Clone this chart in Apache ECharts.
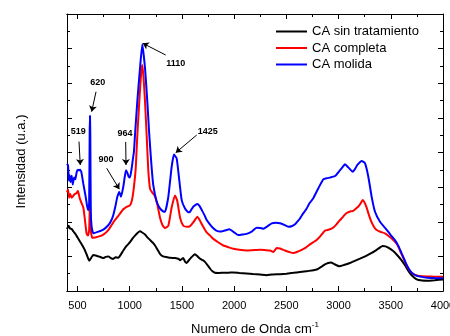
<!DOCTYPE html>
<html>
<head>
<meta charset="utf-8">
<script src="https://cdn.jsdelivr.net/npm/echarts@6/dist/echarts.min.js"></script>
<style>
  html, body { margin: 0; padding: 0; background: #fff; }
  #chart { width: 450px; height: 336px; }
</style>
</head>
<body>
<div id="chart"></div>
<script>
// wavenumber (cm-1) and intensity (a.u.)
const sinX = [400, 415, 430, 445, 460, 480, 500, 525, 550, 572, 595, 614, 635, 652, 675, 700, 725, 748, 770, 795, 820, 843, 865, 891, 915, 939, 970, 1003, 1030, 1051, 1075, 1099, 1120, 1147, 1170, 1195, 1220, 1243, 1265, 1290, 1320, 1354, 1390, 1434, 1470, 1482, 1500, 1513, 1530, 1546, 1570, 1600, 1625, 1650, 1673, 1700, 1721, 1745, 1769, 1790, 1817, 1850, 1897, 1950, 1992, 2050, 2120, 2180, 2248, 2312, 2360, 2439, 2500, 2567, 2631, 2710, 2760, 2791, 2830, 2870, 2900, 2927, 2960, 3007, 3050, 3109, 3150, 3205, 3260, 3317, 3370, 3422, 3450, 3476, 3520, 3556, 3600, 3636, 3670, 3700, 3748, 3800, 3844, 3920, 4000];
const sinY = [3.58, 3.77, 3.6, 3.58, 3.45, 3.3, 3.1, 2.85, 2.6, 2.35, 2.0, 1.75, 1.95, 2.08, 2.05, 2.0, 1.95, 1.9, 1.97, 2.0, 1.9, 1.85, 1.95, 1.92, 2.1, 2.34, 2.6, 2.82, 3.05, 3.2, 3.35, 3.45, 3.38, 3.26, 3.1, 2.95, 2.8, 2.63, 2.4, 2.15, 2.0, 1.96, 1.92, 1.9, 1.85, 1.77, 1.85, 1.9, 1.7, 1.62, 1.8, 2.0, 2.12, 2.0, 1.87, 1.78, 1.68, 1.5, 1.3, 1.15, 1.05, 1.04, 1.05, 1.06, 1.07, 1.04, 1.01, 0.98, 0.95, 0.91, 0.95, 0.97, 1.0, 1.05, 1.1, 1.16, 1.2, 1.24, 1.38, 1.54, 1.62, 1.65, 1.55, 1.43, 1.5, 1.62, 1.73, 1.87, 2.02, 2.2, 2.4, 2.6, 2.58, 2.5, 2.32, 2.11, 1.8, 1.49, 1.15, 0.91, 0.67, 0.6, 0.59, 0.62, 0.67];

const compX = [400, 410, 420, 430, 445, 460, 475, 490, 505, 520, 531, 556, 569, 588, 601, 612, 617, 620, 623, 628, 640, 652, 700, 748, 795, 843, 891, 939, 971, 1003, 1020, 1035, 1057, 1073, 1092, 1110, 1121, 1132, 1147, 1163, 1178, 1195, 1215, 1240, 1265, 1290, 1315, 1338, 1370, 1402, 1434, 1456, 1482, 1514, 1546, 1578, 1609, 1630, 1648, 1670, 1690, 1715, 1737, 1770, 1801, 1850, 1897, 1950, 1992, 2050, 2120, 2180, 2248, 2300, 2344, 2375, 2408, 2440, 2487, 2530, 2567, 2600, 2647, 2690, 2726, 2758, 2790, 2822, 2850, 2870, 2910, 2950, 2980, 3014, 3045, 3071, 3105, 3141, 3165, 3189, 3210, 3231, 3250, 3269, 3290, 3317, 3340, 3365, 3400, 3445, 3485, 3524, 3560, 3588, 3620, 3652, 3685, 3716, 3750, 3780, 3850, 3920, 4000];
const compY = [5.7, 5.87, 5.39, 5.6, 5.39, 5.5, 5.6, 5.65, 5.77, 5.4, 5.2, 4.82, 4.25, 3.3, 3.2, 3.5, 4.6, 5.0, 4.6, 3.5, 3.1, 3.07, 3.14, 3.26, 3.52, 3.96, 4.34, 4.72, 4.86, 4.95, 5.2, 5.72, 7.01, 8.95, 10.94, 12.6, 13.05, 12.4, 10.94, 8.95, 7.01, 5.9, 5.7, 5.5, 5.0, 4.25, 3.8, 3.64, 3.77, 4.82, 5.52, 5.2, 4.25, 3.77, 3.71, 3.75, 3.96, 4.15, 4.29, 4.1, 3.87, 3.6, 3.39, 3.2, 3.01, 2.8, 2.63, 2.52, 2.44, 2.38, 2.34, 2.36, 2.38, 2.36, 2.34, 2.25, 2.48, 2.45, 2.34, 2.25, 2.19, 2.25, 2.38, 2.52, 2.69, 2.82, 2.95, 3.14, 3.35, 3.49, 3.55, 3.67, 3.85, 4.1, 4.3, 4.48, 4.58, 4.63, 4.75, 4.88, 5.05, 5.26, 5.1, 4.82, 4.4, 3.96, 3.7, 3.52, 3.42, 3.33, 3.15, 2.95, 2.7, 2.34, 1.9, 1.49, 1.15, 0.97, 0.9, 0.86, 0.84, 0.83, 0.82];

const molX = [400, 410, 418, 425, 433, 445, 455, 468, 480, 493, 505, 515, 525, 537, 556, 579, 594, 604, 612, 617, 620, 623, 628, 636, 652, 700, 748, 795, 820, 843, 865, 882, 901, 917, 939, 952, 965, 978, 990, 1003, 1019, 1030, 1041, 1051, 1073, 1099, 1121, 1147, 1169, 1188, 1211, 1226, 1259, 1290, 1320, 1338, 1370, 1402, 1424, 1450, 1475, 1498, 1530, 1561, 1578, 1609, 1648, 1670, 1690, 1715, 1737, 1770, 1801, 1830, 1865, 1910, 1954, 2000, 2040, 2080, 2120, 2168, 2216, 2250, 2280, 2320, 2360, 2400, 2439, 2480, 2519, 2550, 2583, 2610, 2631, 2647, 2695, 2720, 2758, 2806, 2854, 2890, 2918, 2966, 3014, 3040, 3062, 3093, 3135, 3160, 3180, 3222, 3253, 3285, 3317, 3349, 3397, 3461, 3500, 3540, 3575, 3604, 3630, 3652, 3685, 3716, 3750, 3780, 3850, 3920, 4000];
const molY = [7.35, 7.25, 6.38, 6.68, 6.3, 6.65, 6.15, 6.55, 6.45, 6.88, 7.0, 6.98, 7.0, 6.88, 6.2, 5.44, 4.86, 4.67, 5.05, 9.1, 10.12, 9.1, 4.55, 3.7, 3.33, 3.43, 3.55, 3.8, 4.03, 4.38, 4.94, 5.44, 5.72, 5.44, 6.02, 6.56, 6.98, 6.82, 6.62, 6.56, 7.08, 7.58, 8.05, 9.0, 10.94, 12.87, 14.25, 12.87, 10.94, 9.0, 7.08, 6.12, 5.15, 4.77, 4.6, 4.58, 5.44, 7.17, 7.88, 7.66, 6.4, 5.25, 4.77, 4.55, 4.58, 4.87, 5.02, 4.9, 4.68, 4.4, 4.1, 3.84, 3.62, 3.49, 3.43, 3.49, 3.56, 3.39, 3.23, 3.26, 3.3, 3.43, 3.66, 3.64, 3.59, 3.74, 3.91, 3.94, 3.91, 3.82, 3.71, 3.74, 3.85, 4.04, 4.19, 4.35, 4.77, 5.05, 5.36, 5.93, 6.45, 6.52, 6.55, 6.64, 6.98, 7.17, 7.32, 7.14, 6.89, 7.07, 7.28, 7.51, 7.38, 6.6, 5.44, 4.58, 4.0, 3.53, 3.23, 2.94, 2.58, 2.17, 1.82, 1.51, 1.16, 0.98, 0.87, 0.83, 0.77, 0.75, 0.73];

const seriesNames = ['CA sin tratamiento', 'CA completa', 'CA molida'];
const xTicks = [500, 1000, 1500, 2000, 2500, 3000, 3500, 4000];
const xMinorTicks = [750, 1250, 1750, 2250, 2750, 3250, 3750];

// peak labels: text position and arrow (from -> to), in data units
const notes = [
  { text: '1110', at: [1441, 13.15], from: [1345, 13.63], to: [1125, 14.31] },
  { text: '620', at: [694, 12.06], from: [678, 11.51], to: [636, 10.36] },
  { text: '519', at: [508, 9.2], from: [515, 8.63], to: [527, 7.28] },
  { text: '964', at: [955, 9.07], from: [962, 8.61], to: [965, 7.28] },
  { text: '900', at: [773, 7.61], from: [780, 7.09], to: [901, 5.88] },
  { text: '1425', at: [1747, 9.2], from: [1642, 9.01], to: [1441, 7.99] }
];

const zip = (xs, ys) => xs.map((x, i) => [x, ys[i]]);

const font = 'Arial, "Liberation Sans", sans-serif';
const chart = echarts.init(document.getElementById('chart'), null, { renderer: 'canvas' });

const xBase = {
  type: 'value', min: 400, max: 4000,
  axisLine: { show: true, onZero: false, lineStyle: { color: '#000', width: 1 } },
  splitLine: { show: false }
};
const yBase = {
  type: 'value', min: 0, max: 16, interval: 2,
  axisLine: { show: true, onZero: false, lineStyle: { color: '#000', width: 1 } },
  axisTick: { show: true, inside: true, length: 5, lineStyle: { color: '#000' } },
  minorTick: { show: true, splitNumber: 2, length: 3, lineStyle: { color: '#000' } },
  axisLabel: { show: false },
  splitLine: { show: false },
  minorSplitLine: { show: false }
};

const option = {
  animation: false,
  backgroundColor: '#fff',
  textStyle: { fontFamily: font },
  grid: { left: 67, right: 7, top: 14, bottom: 45, containLabel: false, outerBoundsMode: 'none' },
  legend: {
    data: seriesNames,
    orient: 'vertical',
    left: 276,
    top: 25,
    padding: 0,
    icon: 'rect',
    itemWidth: 31,
    itemHeight: 2,
    itemGap: 3.5,
    textStyle: { fontSize: 13, color: '#000', fontFamily: font, lineHeight: 13 }
  },
  xAxis: [
    Object.assign({}, xBase, {
      position: 'bottom',
      name: 'Numero de Onda cm{sup|-1}',
      nameLocation: 'middle',
      nameGap: 30,
      nameTextStyle: {
        fontSize: 13, color: '#000', fontFamily: font,
        rich: { sup: { fontSize: 8, verticalAlign: 'top', padding: [0, 0, 8, 0], color: '#000' } }
      },
      axisTick: { show: true, inside: true, length: 5, customValues: xTicks, lineStyle: { color: '#000' } },
      axisLabel: {
        show: true, customValues: xTicks, margin: 9, fontSize: 11, color: '#000', fontFamily: font,
        formatter: v => String(v)
      }
    }),
    Object.assign({}, xBase, {
      position: 'bottom',
      axisTick: { show: true, inside: true, length: 3, customValues: xMinorTicks, lineStyle: { color: '#000' } },
      axisLabel: { show: false }
    }),
    Object.assign({}, xBase, {
      position: 'top',
      axisTick: { show: true, inside: true, length: 5, customValues: xTicks, lineStyle: { color: '#000' } },
      axisLabel: { show: false }
    }),
    Object.assign({}, xBase, {
      position: 'top',
      axisTick: { show: true, inside: true, length: 3, customValues: xMinorTicks, lineStyle: { color: '#000' } },
      axisLabel: { show: false }
    })
  ],
  yAxis: [
    Object.assign({}, yBase, {
      position: 'left',
      name: 'Intensidad (u.a.)',
      nameLocation: 'middle',
      nameGap: 39,
      nameTextStyle: { fontSize: 13, color: '#000', fontFamily: font, padding: [0, 18, 0, 0] }
    }),
    Object.assign({}, yBase, { position: 'right' })
  ],
  series: [
    {
      name: seriesNames[0], type: 'line', data: zip(sinX, sinY),
      showSymbol: false, symbol: 'none', smooth: 0.15,
      lineStyle: { color: '#000000', width: 2 }, itemStyle: { color: '#000000' }
    },
    {
      name: seriesNames[1], type: 'line', data: zip(compX, compY),
      showSymbol: false, symbol: 'none', smooth: 0.15,
      lineStyle: { color: '#ff0000', width: 2 }, itemStyle: { color: '#ff0000' }
    },
    {
      name: seriesNames[2], type: 'line', data: zip(molX, molY),
      showSymbol: false, symbol: 'none', smooth: 0.15,
      lineStyle: { color: '#0000ff', width: 2 }, itemStyle: { color: '#0000ff' },
      markLine: {
        silent: true,
        symbol: ['none', 'arrow'],
        symbolSize: 6,
        label: { show: false },
        lineStyle: { color: '#000', width: 1, type: 'solid' },
        data: notes.map(n => [{ coord: n.from }, { coord: n.to }])
      },
      markPoint: {
        silent: true,
        symbol: 'circle',
        symbolSize: 1,
        itemStyle: { color: 'rgba(0,0,0,0)' },
        label: {
          show: true, position: 'inside', formatter: '{b}',
          fontSize: 9, fontWeight: 'bold', color: '#000', fontFamily: font
        },
        data: notes.map(n => ({ name: n.text, coord: n.at }))
      }
    }
  ]
};

chart.setOption(option);
</script>
</body>
</html>
